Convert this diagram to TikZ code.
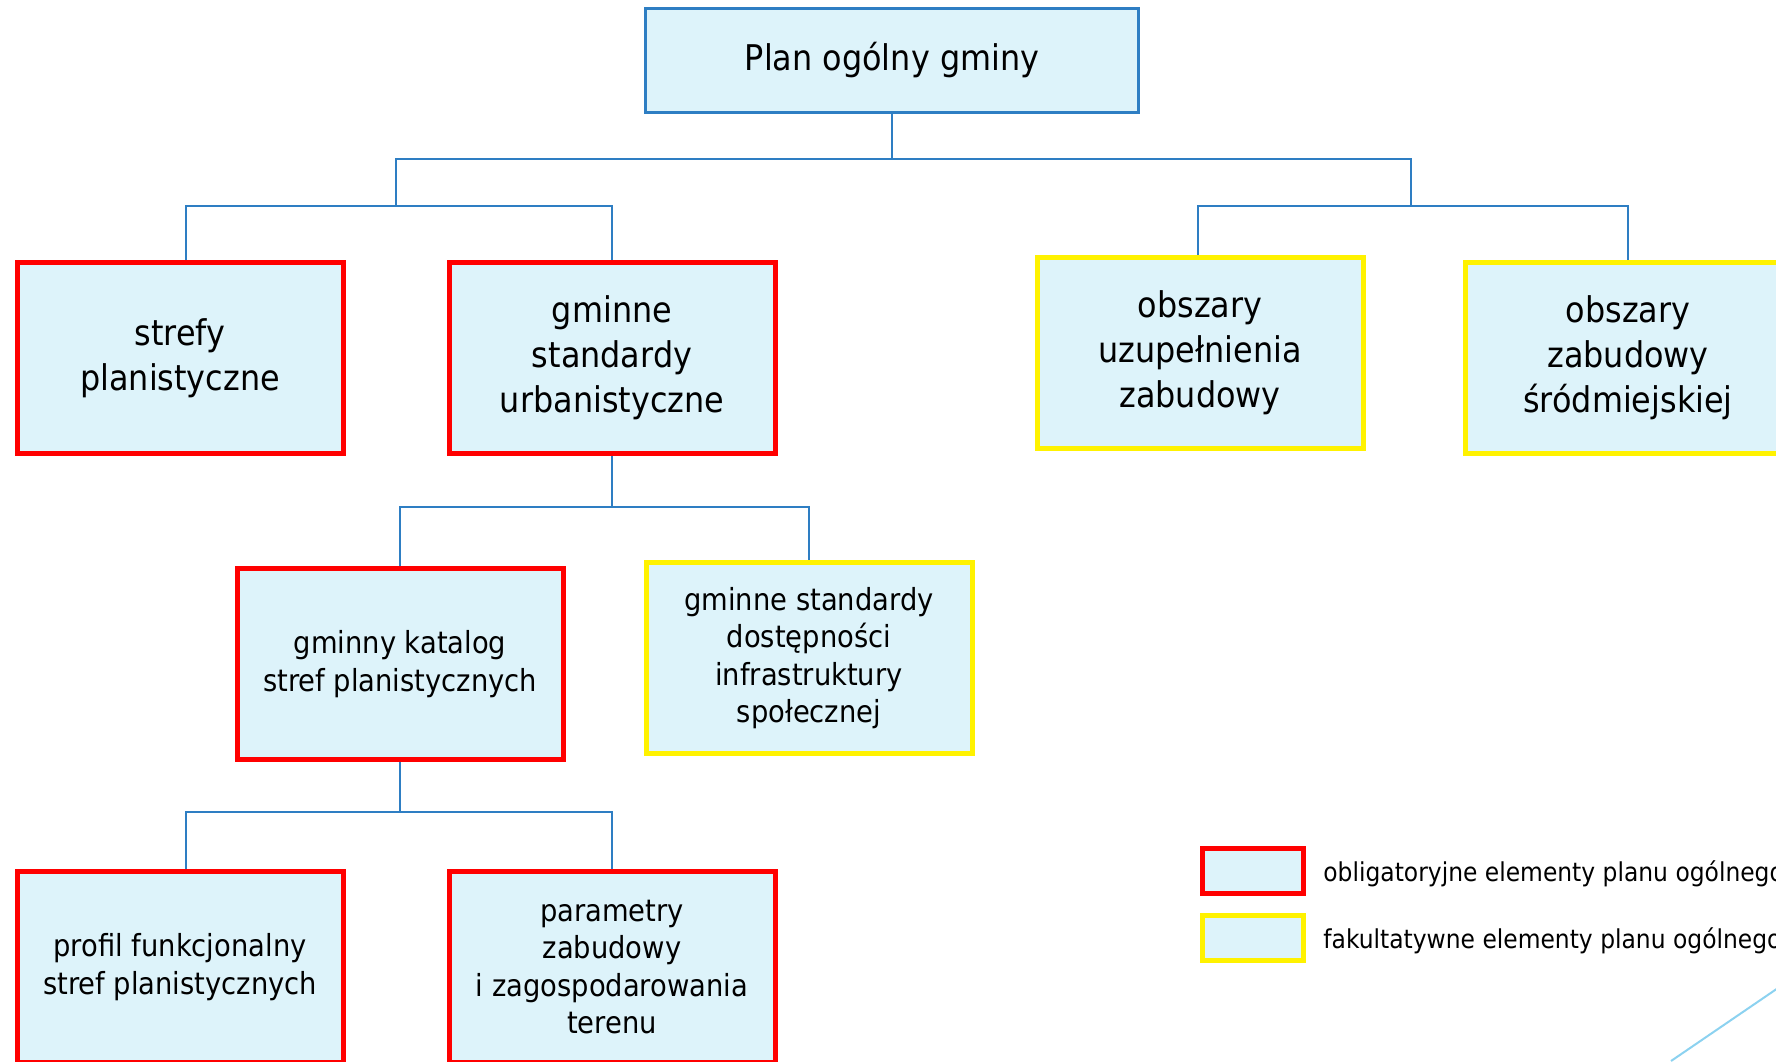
\documentclass[tikz,border=0pt]{standalone}
\usepackage{fontspec}
\setmainfont{DejaVu Sans}[FakeStretch=0.9]

\definecolor{boxfill}{RGB}{221,243,250}
\definecolor{linkblue}{RGB}{46,126,195}
\definecolor{skyline}{RGB}{140,210,240}

\begin{document}
\begin{tikzpicture}[x=0.5pt, y=-0.5pt,
    box/.style={draw, fill=boxfill, line width=2.5pt, minimum width=163pt,
      minimum height=95.5pt, align=center, inner sep=2pt},
    obl/.style={box, draw=red},
    fak/.style={box, draw=yellow},
    link/.style={draw=linkblue, line width=1pt},
    big/.style={font=\fontsize{17.7}{22.5}\selectfont},
    small/.style={font=\fontsize{15.2}{18.75}\selectfont}]
      \clip (0,0) rectangle (1776,1061);

      % root
      \node[box, draw=linkblue, line width=1.5pt, minimum width=246.5pt,
        minimum height=52pt, big] (plan) at (892,60) {Plan ogólny gminy};

      % first level
      \node[obl, big] (strefy) at (180,358) {strefy\\planistyczne};
      \node[obl, big] (standardy) at (612,358) {gminne\\standardy\\urbanistyczne};
      \node[fak, big] (uzup) at (1200,353) {obszary\\uzupełnienia\\zabudowy};
      \node[fak, big] (srodm) at (1628,358) {obszary\\zabudowy\\śródmiejskiej};

      % second level
      \node[obl, small] (katalog) at (400,664) {gminny katalog\\stref planistycznych};
      \node[fak, small] (dostep) at (809,658) {gminne standardy\\dostępności\\infrastruktury\\społecznej};

      % third level
      \node[obl, small] (profil) at (180,967) {profil funkcjonalny\\stref planistycznych};
      \node[obl, small] (param) at (612,967) {parametry\\zabudowy\\i zagospodarowania\\terenu};

      % junctions
      \coordinate (top) at (892,159);
      \coordinate (lmid) at (396,206);
      \coordinate (rmid) at (1411,206);
      \coordinate (smid) at (612,507);
      \coordinate (kmid) at (400,812);

      \draw[link] (plan.south) -- (top);
      \draw[link] (lmid) |- (top) -| (rmid);
      \draw[link] ([xshift=3pt]strefy.north) |- (lmid) -| (standardy.north);
      \draw[link] ([xshift=-1pt]uzup.north) |- (rmid) -| (srodm.north);
      \draw[link] (standardy.south) -- (smid);
      \draw[link] (katalog.north) |- (smid) -| (dostep.north);
      \draw[link] (katalog.south) -- (kmid);
      \draw[link] ([xshift=3pt]profil.north) |- (kmid) -| (param.north);

      % legend
      \foreach \c/\t/\y in {red/obligatoryjne/871, yellow/fakultatywne/938}
      {
        \node[box, draw=\c, minimum width=50.5pt, minimum height=22.5pt] (leg\c) at (1253,\y) {};
        \node[anchor=west, inner sep=0pt, font=\fontsize{13}{15.6}\selectfont]
          (txt\c) at (1323,\y+3) {\t{} elementy planu ogólnego};
      }

      \draw[skyline, line width=1pt] (1671,1061) -- (1800,973);
\end{tikzpicture}
\end{document}
